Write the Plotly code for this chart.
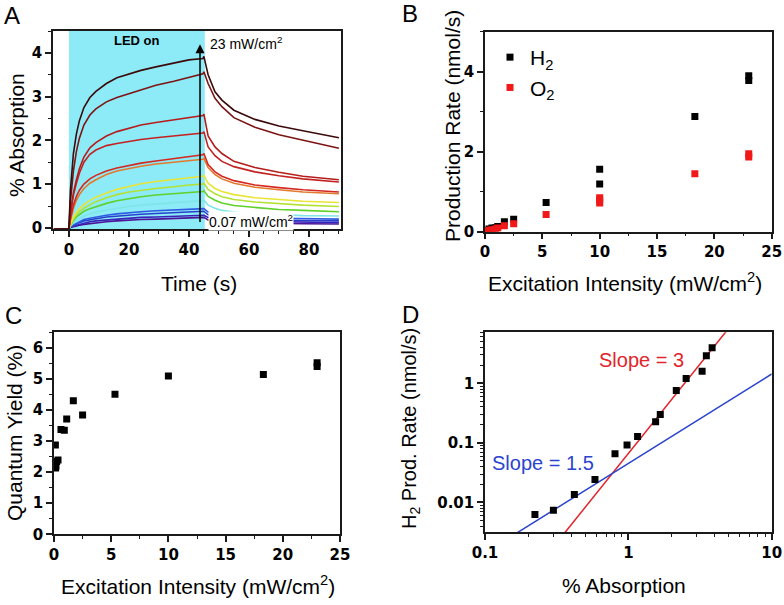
import math
import plotly.graph_objects as go

W, H = 784, 605

# ---------------- Panel A data ----------------
time_s = [-5, 0, 0.5, 1, 1.5, 2.5, 3.5, 5, 7, 9, 12.5, 16, 20, 24, 29, 35, 40, 44.7, 45,
          46.4, 48.7, 51, 55, 62, 70, 78, 90]
abs_purple = [-0.03, -0.02, 0.01, 0.02, 0.03, 0.05, 0.06, 0.08, 0.1, 0.12, 0.14, 0.16, 0.18, 0.19, 0.2, 0.21, 0.22, 0.23, 0.24, 0.18, 0.15, 0.13, 0.12, 0.11, 0.1, 0.095, 0.09]
abs_indigo = [-0.03, -0.02, 0.02, 0.03, 0.04, 0.06, 0.08, 0.11, 0.14, 0.16, 0.18, 0.2, 0.22, 0.24, 0.25, 0.26, 0.27, 0.28, 0.29, 0.24, 0.2, 0.18, 0.16, 0.15, 0.14, 0.13, 0.12]
abs_blue2 = [-0.03, -0.02, 0.02, 0.04, 0.06, 0.09, 0.12, 0.16, 0.19, 0.21, 0.25, 0.27, 0.3, 0.31, 0.33, 0.35, 0.36, 0.37, 0.38, 0.3, 0.26, 0.23, 0.21, 0.19, 0.18, 0.17, 0.16]
abs_blue1 = [-0.03, -0.02, 0.03, 0.05, 0.07, 0.11, 0.14, 0.19, 0.22, 0.25, 0.29, 0.32, 0.35, 0.37, 0.39, 0.41, 0.42, 0.43, 0.44, 0.36, 0.31, 0.28, 0.26, 0.24, 0.22, 0.21, 0.2]
abs_cyan = [-0.03, -0.02, 0.04, 0.08, 0.12, 0.17, 0.21, 0.27, 0.32, 0.36, 0.41, 0.45, 0.49, 0.52, 0.55, 0.58, 0.6, 0.62, 0.63, 0.52, 0.45, 0.4, 0.36, 0.32, 0.3, 0.28, 0.27]
abs_green = [-0.03, -0.02, 0.06, 0.12, 0.17, 0.25, 0.31, 0.38, 0.44, 0.49, 0.56, 0.62, 0.67, 0.71, 0.75, 0.78, 0.81, 0.83, 0.85, 0.72, 0.63, 0.57, 0.51, 0.46, 0.42, 0.4, 0.37]
abs_ygreen = [-0.03, -0.02, 0.07, 0.15, 0.21, 0.3, 0.37, 0.45, 0.53, 0.6, 0.69, 0.76, 0.82, 0.86, 0.9, 0.94, 0.98, 1.0, 1.02, 0.88, 0.78, 0.71, 0.65, 0.59, 0.55, 0.52, 0.49]
abs_yellow = [-0.03, -0.02, 0.08, 0.17, 0.24, 0.35, 0.44, 0.53, 0.63, 0.7, 0.8, 0.88, 0.95, 1.01, 1.06, 1.11, 1.15, 1.18, 1.2, 1.02, 0.9, 0.83, 0.76, 0.69, 0.65, 0.61, 0.58]
abs_orange = [-0.03, -0.02, 0.17, 0.32, 0.45, 0.63, 0.76, 0.9, 1.02, 1.1, 1.22, 1.3, 1.36, 1.41, 1.46, 1.5, 1.54, 1.57, 1.59, 1.38, 1.22, 1.12, 1.02, 0.93, 0.87, 0.82, 0.78]
abs_red5 = [-0.03, -0.02, 0.2, 0.38, 0.52, 0.72, 0.86, 1.0, 1.12, 1.2, 1.3, 1.37, 1.43, 1.48, 1.53, 1.58, 1.63, 1.67, 1.7, 1.45, 1.28, 1.18, 1.08, 0.98, 0.92, 0.87, 0.82]
abs_red4 = [-0.03, -0.02, 0.3, 0.55, 0.75, 1.02, 1.25, 1.5, 1.68, 1.78, 1.88, 1.93, 1.98, 2.02, 2.06, 2.1, 2.14, 2.17, 2.2, 1.85, 1.65, 1.52, 1.4, 1.28, 1.19, 1.12, 1.05]
abs_red3 = [-0.03, -0.02, 0.35, 0.6, 0.8, 1.1, 1.35, 1.62, 1.83, 1.95, 2.1, 2.2, 2.28, 2.35, 2.41, 2.47, 2.53, 2.57, 2.6, 2.1, 1.85, 1.7, 1.52, 1.38, 1.27, 1.18, 1.1]
abs_darkred = [-0.03, -0.02, 0.6, 1.0, 1.3, 1.75, 2.05, 2.35, 2.58, 2.72, 2.88, 2.98, 3.07, 3.15, 3.26, 3.35, 3.44, 3.52, 3.57, 3.3, 2.96, 2.77, 2.52, 2.3, 2.13, 2.0, 1.82]
abs_darkest = [-0.03, -0.02, 0.85, 1.35, 1.7, 2.15, 2.45, 2.75, 2.98, 3.12, 3.3, 3.43, 3.52, 3.6, 3.68, 3.77, 3.84, 3.87, 3.92, 3.5, 3.11, 2.92, 2.69, 2.48, 2.33, 2.22, 2.06]

a_series = [abs_purple, abs_indigo, abs_blue2, abs_blue1, abs_cyan, abs_green, abs_ygreen,
            abs_yellow, abs_orange, abs_red5, abs_red4, abs_red3, abs_darkred, abs_darkest]
a_colors = ["#4b1596", "#3a22b8", "#2840cc", "#2f5be0", "#7ee6e6", "#5fd12a", "#b4e234",
            "#e9e534", "#e27a2e", "#d42820", "#c42222", "#b51d1d", "#7d1414", "#3b0b0b"]
led_on_end = 45.3
a_xticks = [0, 20, 40, 60, 80]
a_yticks = [0, 1, 2, 3, 4]

# ---------------- Panel B data ----------------
b_int_h2 = [0.12, 0.14, 0.17, 0.23, 0.35, 0.61, 0.9, 1.11, 1.69, 2.5, 5.33, 10.0, 10.0, 18.3, 23.0, 23.0]
b_h2 = [0.006, 0.007, 0.013, 0.024, 0.066, 0.092, 0.10, 0.128, 0.25, 0.31, 0.73, 1.19, 1.56, 2.88, 3.78, 3.90]
b_int_o2 = [0.12, 0.14, 0.17, 0.23, 0.35, 0.61, 0.9, 1.11, 1.69, 2.5, 5.33, 10.0, 10.0, 10.0, 18.3, 23.0, 23.0]
b_o2 = [0.003, 0.004, 0.007, 0.012, 0.035, 0.05, 0.07, 0.09, 0.15, 0.2, 0.43, 0.72, 0.79, 0.85, 1.45, 1.87, 1.95]
int_ticks = [0, 5, 10, 15, 20, 25]
b_yticks = [0, 2, 4]

# ---------------- Panel C data ----------------
c_int = [0.12, 0.14, 0.17, 0.23, 0.35, 0.61, 0.9, 1.11, 1.69, 2.5, 5.33, 10.0, 18.3, 23.0, 23.0]
c_qy = [2.87, 2.13, 2.2, 2.34, 2.39, 3.37, 3.35, 3.71, 4.30, 3.84, 4.51, 5.09, 5.14, 5.40, 5.52]
c_yticks = [0, 1, 2, 3, 4, 5, 6]

# ---------------- Panel D data ----------------
d_abs = [0.223, 0.30, 0.42, 0.585, 0.807, 0.979, 1.16, 1.55, 1.67, 2.16, 2.53, 3.27, 3.50, 3.84]
d_rate = [0.0063, 0.0074, 0.0136, 0.0242, 0.066, 0.092, 0.128, 0.226, 0.30, 0.754, 1.20, 1.59, 2.90, 3.95]
slope3_x = [0.36, 5.0]
slope3_y = [0.0031, 8.3]
slope15_x = [0.1, 10.0]
slope15_y = [0.00143, 1.43]
d_xticks = [0.1, 1, 10]
d_xticklabels = ["0.1", "1", "10"]
d_yticks = [0.01, 0.1, 1]
d_yticklabels = ["0.01", "0.1", "1"]

# ---------------- figure ----------------
TICKFONT = dict(family="DejaVu Sans", size=15, color="black")
LINEC = "#1a1a1a"
RED = "#e3242b"
BLUE = "#2b44d0"


def px_x(p):
    return p / W


def px_y(p):
    return 1 - p / H


def bold(vals, labels=None):
    labels = labels if labels is not None else [str(v) for v in vals]
    return dict(tickmode="array", tickvals=vals, ticktext=["<b>%s</b>" % s for s in labels])


fig = go.Figure()

for vals, col in zip(a_series, a_colors):
    fig.add_trace(go.Scatter(x=time_s, y=vals, mode="lines", line=dict(color=col, width=1.6),
                             xaxis="x", yaxis="y", showlegend=False, hoverinfo="skip"))

fig.add_trace(go.Scatter(x=b_int_h2, y=b_h2, mode="markers", name="H<sub>2</sub>",
                         marker=dict(symbol="square", size=7, color="black"),
                         xaxis="x2", yaxis="y2", showlegend=True))
fig.add_trace(go.Scatter(x=b_int_o2, y=b_o2, mode="markers", name="O<sub>2</sub>",
                         marker=dict(symbol="square", size=7, color="#f01818"),
                         xaxis="x2", yaxis="y2", showlegend=True))

fig.add_trace(go.Scatter(x=c_int, y=c_qy, mode="markers",
                         marker=dict(symbol="square", size=7, color="black"),
                         xaxis="x3", yaxis="y3", showlegend=False))

fig.add_trace(go.Scatter(x=slope3_x, y=slope3_y, mode="lines", line=dict(color=RED, width=1.5),
                         xaxis="x4", yaxis="y4", showlegend=False))
fig.add_trace(go.Scatter(x=slope15_x, y=slope15_y, mode="lines", line=dict(color=BLUE, width=1.5),
                         xaxis="x4", yaxis="y4", showlegend=False))
fig.add_trace(go.Scatter(x=d_abs, y=d_rate, mode="markers",
                         marker=dict(symbol="square", size=7, color="black"),
                         xaxis="x4", yaxis="y4", showlegend=False))


def ax_common(**kw):
    d = dict(showline=True, linecolor=LINEC, linewidth=1.5, mirror=True, ticks="outside",
             ticklen=6, tickwidth=1.5, tickcolor=LINEC, showgrid=False, zeroline=False,
             tickfont=TICKFONT, automargin=False)
    d.update(kw)
    return d


def minor_lin(dt):
    return dict(ticks="outside", ticklen=3, tickwidth=1.2, tickcolor=LINEC, dtick=dt, showgrid=False)


def minor_vals(vals):
    return dict(ticks="outside", ticklen=3, tickwidth=1.2, tickcolor=LINEC, tickvals=vals, showgrid=False)


layout = dict(
    template="none",
    width=W, height=H, autosize=False,
    margin=dict(l=0, r=0, t=0, b=0, autoexpand=False),
    paper_bgcolor="white", plot_bgcolor="white",
    xaxis=ax_common(domain=[px_x(53), px_x(341)], range=[-5.3, 90.7], anchor="y",
                    minor=minor_lin(5), **bold(a_xticks)),
    yaxis=ax_common(domain=[px_y(229.2), px_y(31)], range=[-0.03, 4.5], anchor="x",
                    minor=minor_lin(0.5), **bold(a_yticks)),
    xaxis2=ax_common(domain=[px_x(485), px_x(771.7)], range=[0, 25], anchor="y2",
                     minor=minor_lin(2.5), **bold(int_ticks)),
    yaxis2=ax_common(domain=[px_y(231.7), px_y(31.7)], range=[0, 5], anchor="x2",
                     minor=minor_lin(1), **bold(b_yticks)),
    xaxis3=ax_common(domain=[px_x(54), px_x(340)], range=[0, 25], anchor="y3",
                     minor=minor_lin(2.5), **bold(int_ticks)),
    yaxis3=ax_common(domain=[px_y(534.3), px_y(332.3)], range=[0, 6.5], anchor="x3",
                     minor=minor_lin(0.5), **bold(c_yticks)),
    xaxis4=ax_common(type="log", domain=[px_x(485), px_x(771.7)], range=[-1, 1], anchor="y4",
                     minor=minor_vals([0.2, 0.3, 0.4, 0.5, 0.6, 0.7, 0.8, 0.9,
                                       2, 3, 4, 5, 6, 7, 8, 9]),
                     **bold(d_xticks, d_xticklabels)),
    yaxis4=ax_common(type="log", domain=[px_y(532.3), px_y(332.3)], range=[-2.5, 0.855], anchor="x4",
                     minor=minor_vals([0.004, 0.005, 0.006, 0.007, 0.008, 0.009,
                                       0.02, 0.03, 0.04, 0.05, 0.06, 0.07, 0.08, 0.09,
                                       0.2, 0.3, 0.4, 0.5, 0.6, 0.7, 0.8, 0.9,
                                       2, 3, 4, 5, 6, 7]),
                     **bold(d_yticks, d_yticklabels)),
    showlegend=True,
    legend=dict(x=px_x(490), y=px_y(37), xanchor="left", yanchor="top",
                font=dict(family="Liberation Sans, Arial", size=21, color="black"),
                bgcolor="rgba(0,0,0,0)", borderwidth=0, tracegroupgap=0),
    shapes=[dict(type="rect", xref="x", yref="y domain", x0=0, x1=led_on_end, y0=0, y1=1,
                 fillcolor="#8deaf7", line=dict(width=0), layer="below")],
)
fig.update_layout(**layout)

ann = []


def t(text, x, y, size=21, angle=0, color="black"):
    ann.append(dict(text=text, x=px_x(x), y=px_y(y), xref="paper", yref="paper", showarrow=False,
                    font=dict(family="Liberation Sans, Arial", size=size, color=color),
                    textangle=angle, xanchor="center", yanchor="middle"))


# panel letters
t("A", 12, 16, size=24)
t("B", 410, 14, size=24)
t("C", 13, 315, size=24)
t("D", 410, 314, size=24)
# axis titles
t("Time (s)", 199, 283)
t("% Absorption", 16, 135, angle=-90)
t("Excitation Intensity (mW/cm<sup>2</sup>)", 625, 282)
t("Production Rate (nmol/s)", 452, 126, angle=-90)
t("Excitation Intensity (mW/cm<sup>2</sup>)", 198, 585)
t("Quantum Yield (%)", 14, 433, angle=-90)
t("% Absorption", 624, 585)
t("H<sub>2</sub> Prod. Rate (nmol/s)", 410, 429, size=20, angle=-90)

# panel A inner labels
ann.append(dict(text="<b>LED on</b>", x=22.8, y=4.29, xref="x", yref="y", showarrow=False,
                font=dict(family="Liberation Sans, Arial", size=13, color="black")))
ann.append(dict(text="", x=43.7, y=4.2, ax=43.7, ay=0.1, xref="x", yref="y", axref="x", ayref="y",
                showarrow=True, arrowhead=2, arrowsize=1.2, arrowwidth=1.5, arrowcolor="black"))
ann.append(dict(text="23 mW/cm<sup>2</sup>", x=46.3, y=4.22, xref="x", yref="y", showarrow=False,
                xanchor="left", yanchor="middle",
                font=dict(family="Liberation Sans, Arial", size=14, color="black")))
ann.append(dict(text="0.07 mW/cm<sup>2</sup>", x=46.3, y=0.15, xref="x", yref="y", showarrow=False,
                xanchor="left", yanchor="middle", bgcolor="white", borderpad=0,
                font=dict(family="Liberation Sans, Arial", size=14, color="black")))
# panel D slope labels (log axes: positions in log10 units)
ann.append(dict(text="Slope = 3", x=math.log10(1.24), y=math.log10(2.45), xref="x4", yref="y4",
                showarrow=False, font=dict(family="Liberation Sans, Arial", size=20, color=RED)))
ann.append(dict(text="Slope = 1.5", x=math.log10(0.252), y=math.log10(0.046), xref="x4", yref="y4",
                showarrow=False, font=dict(family="Liberation Sans, Arial", size=20, color=BLUE)))

fig.update_layout(annotations=ann)
fig.write_html("out.html", config={"displayModeBar": False},
               post_script="document.body.style.margin='0';document.body.style.overflow='hidden';")
